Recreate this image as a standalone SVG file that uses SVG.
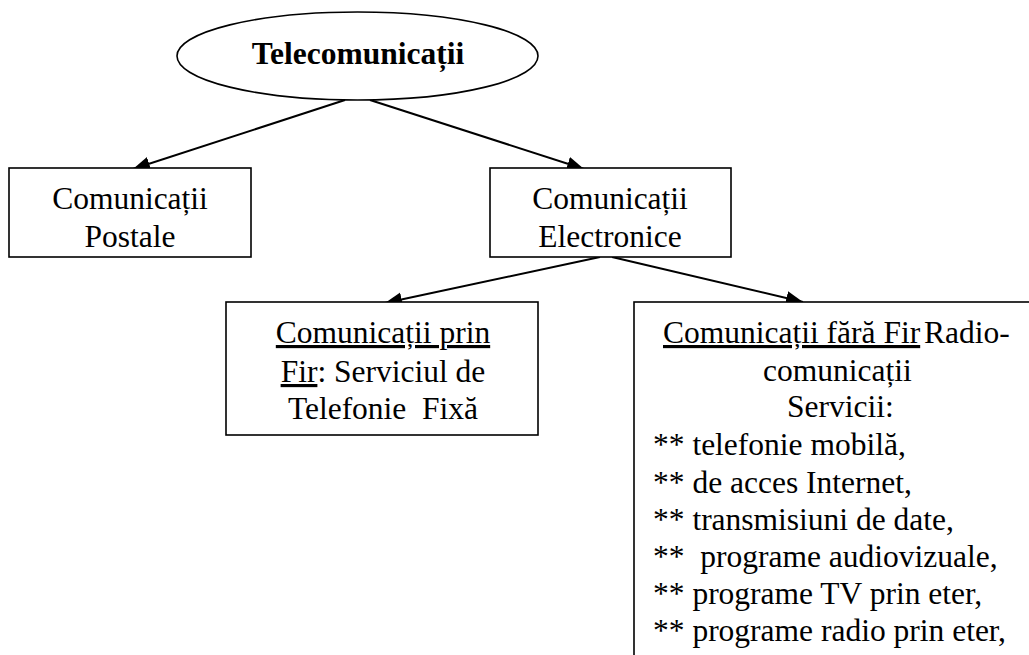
<svg xmlns="http://www.w3.org/2000/svg" width="1029" height="655" viewBox="0 0 1029 655">
<style>
text{font-family:'Liberation Serif','Times New Roman',serif;font-size:31.5px;fill:#000}
.b{font-weight:bold}
.box{fill:#fff;stroke:#000;stroke-width:1.6}
.con{stroke:#000;stroke-width:2;fill:none;marker-end:url(#ah)}
.u{text-decoration:underline}
</style>
<defs>
<marker id="ah" markerUnits="userSpaceOnUse" markerWidth="20" markerHeight="16" refX="17" refY="7" orient="auto">
<path d="M0,0 L17,7 L0,14 Z" fill="#000"/>
</marker>
</defs>
<rect width="1029" height="655" fill="#fff"/>
<g id="connectors">
<line class="con" x1="345" y1="100" x2="133" y2="169"/>
<line class="con" x1="370" y1="100" x2="584" y2="169"/>
<line class="con" x1="600" y1="257" x2="385" y2="303"/>
<line class="con" x1="612" y1="257" x2="803" y2="302"/>
</g>
<g id="telecomunicatii">
<ellipse cx="357.5" cy="56" rx="180.5" ry="44" fill="#fff" stroke="#000" stroke-width="1.6"/>
<text class="b" x="358" y="64" text-anchor="middle">Telecomunicații</text>
</g>
<g id="postale">
<rect class="box" x="9" y="168" width="242" height="89"/>
<text x="130" y="209" text-anchor="middle">Comunicații</text>
<text x="130" y="247" text-anchor="middle">Postale</text>
</g>
<g id="electronice">
<rect class="box" x="490" y="168" width="241" height="89"/>
<text x="610" y="209" text-anchor="middle">Comunicații</text>
<text x="610" y="247" text-anchor="middle">Electronice</text>
</g>
<g id="prin-fir">
<rect class="box" x="226" y="302" width="312" height="133"/>
<text x="383" y="343" text-anchor="middle" class="u">Comunicații prin</text>
<text x="383" y="382" text-anchor="middle"><tspan class="u">Fir</tspan>: Serviciul de</text>
<text x="383" y="419" text-anchor="middle" xml:space="preserve">Telefonie  Fixă</text>
</g>
<g id="fara-fir">
<rect class="box" x="634" y="302" width="420" height="380"/>
<text x="663" y="343" class="u">Comunicații fără Fir</text>
<text x="924" y="343">Radio-</text>
<text x="763" y="381">comunicații</text>
<text x="787" y="417">Servicii:</text>
<text x="653" y="455">** telefonie mobilă,</text>
<text x="653" y="493">** de acces Internet,</text>
<text x="653" y="530">** transmisiuni de date,</text>
<text x="653" y="567" xml:space="preserve">**  programe audiovizuale,</text>
<text x="653" y="604">** programe TV prin eter,</text>
<text x="653" y="641">** programe radio prin eter,</text>
</g>
</svg>
